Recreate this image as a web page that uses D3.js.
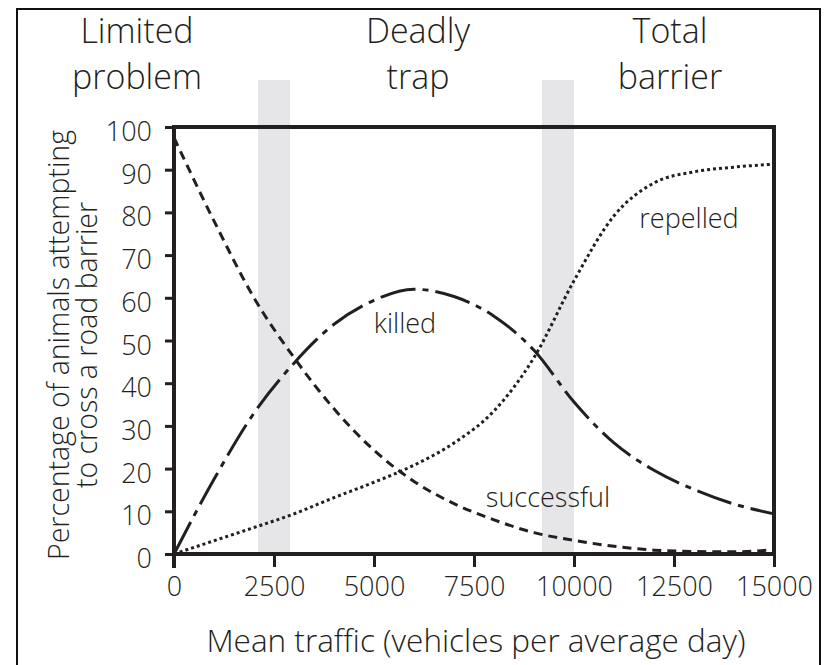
<!DOCTYPE html>
<html>
<head>
<meta charset="utf-8">
<script src="https://cdn.jsdelivr.net/npm/d3@7"></script>
<style>
  html, body { margin: 0; padding: 0; background: #fff; }
  svg { display: block; }
  text { font-family: "Open Sans", "Noto Sans", sans-serif; fill: #231f20; }
</style>
</head>
<body>
<svg id="chart" width="827" height="665"></svg>
<script>
// ---- data ----
const traffic    = [0, 1000, 2000, 3000, 4000, 5000, 6000, 7000, 8000, 9000, 10000, 11000, 12000, 13000, 14000, 15000];
const successful = [97.5, 78, 60, 46, 34, 24.3, 17, 11.8, 8, 5, 3.2, 1.8, 0.9, 0.6, 0.5, 1];
const killed     = [0, 17.5, 33, 44.7, 53.8, 59.4, 62, 60.3, 55.7, 47.7, 35.6, 26, 19.6, 15.1, 11.7, 9.4];
const repelled   = [0, 3.1, 6.2, 9.4, 13.2, 16.8, 20.8, 26, 33.5, 46, 64, 79.2, 86.9, 89.5, 90.6, 91.3];
const xTicks = [0, 2500, 5000, 7500, 10000, 12500, 15000];
const yTicks = [0, 10, 20, 30, 40, 50, 60, 70, 80, 90, 100];
const bands = [[2100, 2900], [9200, 10000]];
const zoneLabels = [["Limited", "problem"], ["Deadly", "trap"], ["Total", "barrier"]];
const zoneCenters = [-925, 6100, 12400];
const seriesNames = ["successful", "killed", "repelled"];
const seriesLabelPos = [[9350, 11], [5775, 51.8], [12875, 76.3]];
const xTitle = "Mean traffic (vehicles per average day)";
const yTitle = ["Percentage of animals attempting", "to cross a road barrier"];

// ---- layout ----
const ink = "#231f20";
const svg = d3.select("#chart");
const x = d3.scaleLinear().domain([0, 15000]).range([174, 774]);
const y = d3.scaleLinear().domain([0, 100]).range([554, 127]);

// outer frame
svg.append("rect").attr("x", 17).attr("y", 9).attr("width", 803).attr("height", 700)
  .attr("fill", "none").attr("stroke", "#111").attr("stroke-width", 2);

// bands
svg.selectAll("rect.band").data(bands).enter().append("rect")
  .attr("class", "band")
  .attr("x", d => x(d[0])).attr("width", d => x(d[1]) - x(d[0]))
  .attr("y", 80).attr("height", y(0) - 80)
  .attr("fill", "#e6e6e8");

// zone labels
zoneLabels.forEach((lines, i) => {
  const t = svg.append("text").attr("text-anchor", "middle")
    .style("font-size", "34px").style("font-weight", 300);
  lines.forEach((ln, j) => {
    t.append("tspan").attr("x", x(zoneCenters[i])).attr("y", 43 + j * 46).text(ln);
  });
});

// lines
const line = d3.line().x((d, i) => x(traffic[i])).y(d => y(d)).curve(d3.curveMonotoneX);
const styles = [
  { data: successful, dash: "9,6" },
  { data: killed, dash: "36,7,6,7" },
  { data: repelled, dash: "3,3" }
];
styles.forEach(s => {
  svg.append("path").datum(s.data).attr("d", line)
    .attr("fill", "none").attr("stroke", ink).attr("stroke-width", 3)
    .attr("stroke-dasharray", s.dash).attr("stroke-linecap", "butt");
});

// series labels
seriesNames.forEach((n, i) => {
  svg.append("text").attr("x", x(seriesLabelPos[i][0])).attr("y", y(seriesLabelPos[i][1]))
    .attr("text-anchor", "middle").style("font-size", "27px").style("font-weight", 300).text(n);
});

// frame: top and right
svg.append("line").attr("x1", x(0)).attr("x2", x(15000)).attr("y1", y(100)).attr("y2", y(100))
  .attr("stroke", ink).attr("stroke-width", 4).attr("stroke-linecap", "square");
svg.append("line").attr("x1", x(15000)).attr("x2", x(15000)).attr("y1", y(100)).attr("y2", y(0))
  .attr("stroke", ink).attr("stroke-width", 4).attr("stroke-linecap", "square");

// axes
const xAxis = d3.axisBottom(x).tickValues(xTicks).tickSize(13).tickPadding(10).tickFormat(d => d);
const gx = svg.append("g").attr("transform", `translate(0,${y(0)})`).call(xAxis);
gx.select(".domain").attr("stroke", ink).attr("stroke-width", 4).attr("d", `M${x(0)},0H${x(15000)}`);
gx.selectAll(".tick line").attr("stroke", ink).attr("stroke-width", 3);
gx.selectAll(".tick text").style("font-size", "27px").style("font-weight", 300)
  .style("font-family", '"Open Sans", sans-serif').attr("fill", ink);

const yAxis = d3.axisLeft(y).tickValues(yTicks).tickSize(9).tickPadding(13);
const gy = svg.append("g").attr("transform", `translate(${x(0)},0)`).call(yAxis);
gy.select(".domain").attr("stroke", ink).attr("stroke-width", 4).attr("d", `M0,${y(100)}V${y(0) + 14}`);
gy.selectAll(".tick line").attr("stroke", ink).attr("stroke-width", 3);
gy.selectAll(".tick text").style("font-size", "27px").style("font-weight", 300)
  .style("font-family", '"Open Sans", sans-serif').attr("fill", ink).attr("dy", "0.5em");

// axis titles
svg.append("text").attr("x", 476).attr("y", 652).attr("text-anchor", "middle")
  .style("font-size", "31.5px").style("font-weight", 300).text(xTitle);
yTitle.forEach((t, i) => {
  svg.append("text").attr("transform", `translate(${69 + i * 28},345) rotate(-90)`)
    .attr("text-anchor", "middle").style("font-size", "28.5px").style("font-weight", 300).text(t);
});
</script>
</body>
</html>
